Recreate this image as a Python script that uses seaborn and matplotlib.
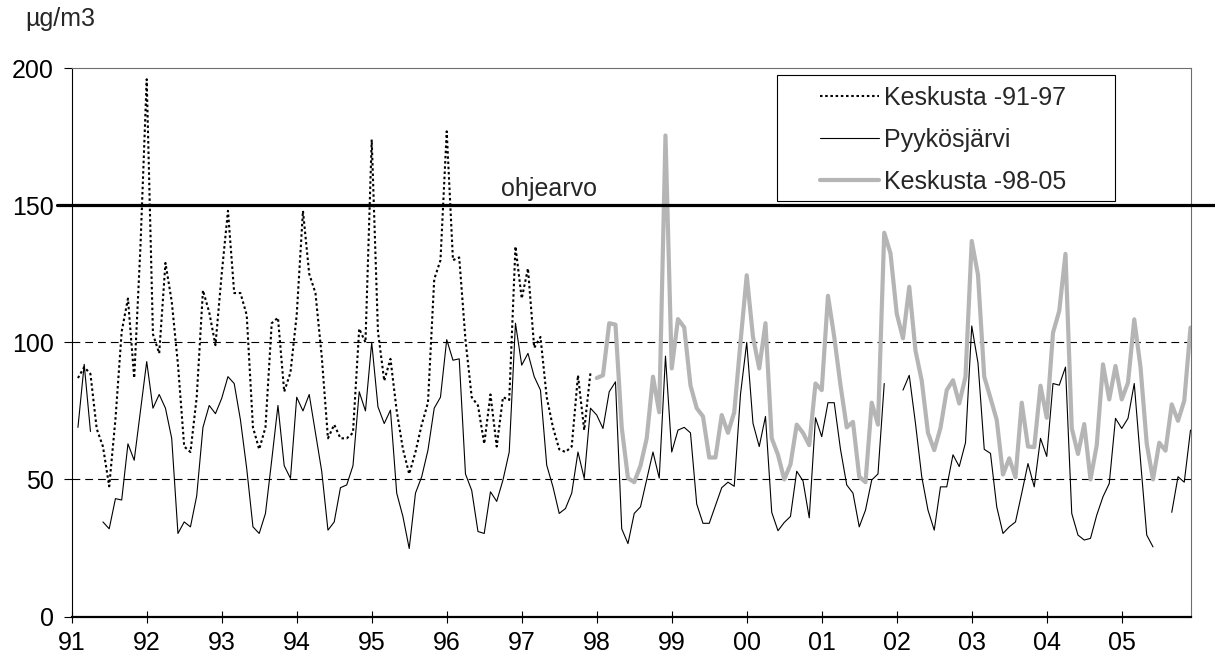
import numpy as np
import pandas as pd
import matplotlib
matplotlib.use("Agg")
import matplotlib.pyplot as plt
import seaborn as sns
from matplotlib.patches import Rectangle

N = None
# ---- data (monthly means, µg/m3) ----
years = ["91", "92", "93", "94", "95", "96", "97", "98", "99", "00", "01", "02", "03", "04", "05"]

# Keskusta -91-97 : Jan 1991 .. Dec 1997
keskusta_91_97 = [
    N, 87, 91, 88.5, 68.5, 62, 47.5, 72, 104, 116, 87, 135,
    196, 103, 96, 129, 115, 92, 62, 60, 80, 119, 111, 99,
    125, 148, 118, 118, 110, 69, 61, 69, 107, 109, 82, 89,
    110, 148, 125, 118, 95, 65, 70, 65, 65, 67, 105, 100,
    174, 104, 86, 94, 75, 61, 52, 60, 70, 78, 123, 130,
    177, 130, 131, 101, 80, 77, 63, 81, 62, 80, 79, 135,
    116, 127, 98, 102, 80, 69, 61, 60, 62, 88, 68, 89,
]

# Pyykösjärvi : Jan 1991 .. Dec 2005
pyykosjarvi = [
    N, 69, 92, 67.5, N, 34.5, 32, 43, 42.5, 63, 57, 75,
    93, 76, 81, 76, 65, 30.3, 34.5, 32.7, 44, 69, 77, 74,
    79.6, 87.5, 85, 71.7, 54, 32.7, 30.3, 37.6, 57, 77, 55, 50.4,
    80, 75, 81, 67, 53, 31.5, 34.5, 47, 48, 55, 82, 75,
    100, 76.5, 70.4, 75.3, 45, 36.4, 24.8, 45, 51, 60.7, 76, 80,
    101, 93.5, 94, 52, 46, 31, 30.3, 45.5, 42, 49.8, 60, 107,
    91.7, 96, 87.5, 82.6, 55.2, 47.3, 37.6, 39.4, 45, 60, 50.4, 76,
    73.5, 68.6, 82, 85.6, 32, 26.6, 37.6, 40, 50, 60, 50.5, 95,
    60, 68, 69, 67, 41, 34, 34, 40.5, 47, 49, 47.5, 81,
    100, 70.5, 62, 73, 38, 31.3, 34.3, 36.5, 53, 49.5, 36, 72.5,
    65.6, 78, 78, 61, 48, 45, 32.7, 38.8, 49.8, 52, 85, N,
    N, 82.6, 88, 70.4, 51, 38.8, 31.5, 47.3, 47.3, 59, 54.7, 63.4,
    106, 92.5, 61, 59.5, 40, 30.3, 32.7, 34.5, 45, 55.8, 47.3, 65,
    58.4, 85, 84.4, 91, 37.6, 29.7, 27.9, 28.5, 37, 43.7, 48.5, 72.3,
    68.6, 72.3, 85, 57, 29.7, 25.4, N, N, 38, 51, 49, 68,
]

# Keskusta -98-05 : Jan 1998 .. Dec 2005
keskusta_98_05 = [
    87, 88, 107, 106.5, 69, 50.5, 49, 55, 65, 87.5, 74.5, 175.5,
    90.5, 108.5, 105.5, 84.3, 76, 73, 58, 58, 73.5, 67, 74.5, 100,
    124.5, 102, 90.5, 107, 65, 59, 50, 55.5, 70, 67, 62.5, 85,
    82.6, 117, 102, 84.4, 69, 71, 51, 49, 78, 70, 140, 132.5,
    110.5, 101.5, 120.3, 97, 86, 67, 60.7, 68.8, 82.6, 86.2, 77.7, 87.5,
    137, 124.6, 87.5, 79.7, 71.7, 51.8, 57.7, 50.8, 78, 62, 61.8, 84.2,
    72.5, 103.5, 111.5, 132.3, 68.7, 59.3, 70.2, 50, 62.5, 92, 79.2, 91.4,
    79.2, 85.3, 108.4, 91, 63, 50, 63.4, 60.5, 77.4, 71.4, 78.7, 105.4,
]

guide_value = 150
series_names = ["Keskusta -91-97", "Pyykösjärvi", "Keskusta -98-05"]


def to_frame(values, start):
    rows, seg, gap = [], 0, True
    for k, v in enumerate(values):
        if v is None:
            gap = True
            continue
        if gap:
            seg += 1
            gap = False
        rows.append((start + k, v, seg))
    return pd.DataFrame(rows, columns=["month", "value", "seg"])


df_k1 = to_frame(keskusta_91_97, 0)
df_p = to_frame(pyykosjarvi, 0)
df_k2 = to_frame(keskusta_98_05, 84)

sns.set_style("white")
plt.rcParams["font.family"] = ["Liberation Sans", "DejaVu Sans"]
FS = 18

W, H = 1215, 668
fig = plt.figure(figsize=(W / 100, H / 100), dpi=100)
L, R, T, B = 71.7, 1190.5, 68.3, 616.5
ax = fig.add_axes([L / W, 1 - B / H, (R - L) / W, (B - T) / H])

# reference lines
for yv in (50, 100):
    ax.axhline(yv, color="black", lw=0.8, ls=(0, (7, 4.5)), zorder=1)
x0 = (57 - L) / (R - L)
x1 = (1215 - L) / (R - L)
ax.axhline(guide_value, xmin=x0, xmax=x1, color="black", lw=2.3, zorder=3, clip_on=False)

sns.lineplot(data=df_k1, x="month", y="value", units="seg", estimator=None,
             color="black", lw=1.5, ls=(0, (1.2, 1.3)), dash_capstyle="butt",
             label=series_names[0], ax=ax, zorder=2)
sns.lineplot(data=df_p, x="month", y="value", units="seg", estimator=None,
             color="black", lw=0.8, label=series_names[1], ax=ax, zorder=2)
sns.lineplot(data=df_k2, x="month", y="value", units="seg", estimator=None,
             color="#b5b5b5", lw=3.0, label=series_names[2], ax=ax, zorder=2)

ax.set_xlim(0, 179)
ax.set_ylim(0, 200)
ax.set_xticks(np.arange(0, 180, 12))
ax.set_xticklabels(years)
ax.set_yticks([0, 50, 100, 150, 200])
ax.set_xlabel("")
ax.set_ylabel("")
ax.tick_params(axis="y", direction="out", length=6, width=0.8, pad=7,
               labelsize=FS, colors="black", left=True)
ax.tick_params(axis="x", direction="inout", length=9, width=0.8, pad=6,
               labelsize=FS, colors="black", bottom=True)

ax.spines["left"].set_color("black")
ax.spines["left"].set_linewidth(0.8)
ax.spines["bottom"].set_color("black")
ax.spines["bottom"].set_linewidth(1.6)
for s in ("top", "right"):
    ax.spines[s].set_color("#6e6e6e")
    ax.spines[s].set_linewidth(0.8)

ax.text(76.4, 153.5, "ohjearvo", ha="center", va="baseline", fontsize=FS)
fig.text(25 / W, 1 - 19 / H, "µg/m3", ha="left", va="center", fontsize=FS)

# legend
ax.add_patch(Rectangle((777 / W, 1 - 201 / H), (1115 - 777) / W, 126 / H,
                       transform=fig.transFigure, facecolor="white",
                       edgecolor="black", lw=0.8, zorder=4, clip_on=False))
handles, labels = ax.get_legend_handles_labels()
uniq = {}
for h, l in zip(handles, labels):
    if l not in uniq:
        uniq[l] = h
leg = ax.legend([uniq[n] for n in series_names], series_names,
                loc="upper left", bbox_to_anchor=(820 / W, 1 - 86 / H),
                bbox_transform=fig.transFigure, frameon=False, borderpad=0,
                borderaxespad=0, handlelength=2.36, handletextpad=0.2,
                labelspacing=0.72, fontsize=FS)
leg.set_zorder(5)

fig.savefig("out.png", dpi=100)
